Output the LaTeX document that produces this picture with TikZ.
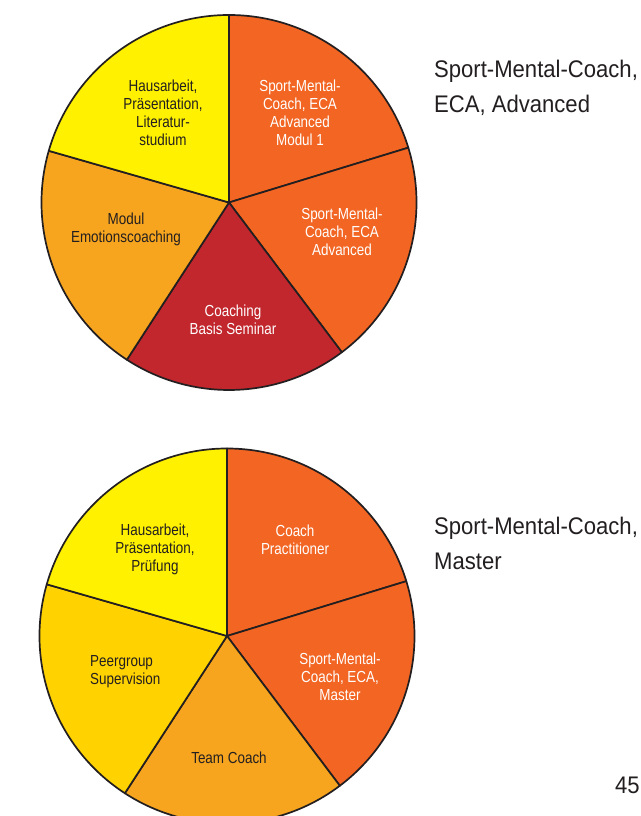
\documentclass[tikz,border=0pt]{standalone}
\usepackage{fontspec}
\setmainfont[FakeStretch=0.84]{Liberation Sans}
\newfontfamily\sidefont[FakeStretch=0.92]{Liberation Sans}
\definecolor{pyellow}{HTML}{FFF100}
\definecolor{porange}{HTML}{F26522}
\definecolor{pamber}{HTML}{F7A51E}
\definecolor{pred}{HTML}{C1272D}
\definecolor{pgold}{HTML}{FFD200}
\definecolor{ink}{HTML}{231F20}
\begin{document}
\begin{tikzpicture}[x=1pt,y=1pt,
  slice/.style={draw=ink,line width=1.7pt,line join=round},
  lbl/.style={align=center,font=\fontsize{16}{18}\selectfont,text=ink,inner sep=0pt},
  wlbl/.style={lbl,text=white},
  side/.style={align=left,anchor=base west,font=\sidefont\fontsize{24}{35.5}\selectfont,text=ink,inner sep=0pt}]
\useasboundingbox (0,0) rectangle (640,816);
\clip (0,0) rectangle (640,816);
\fill[white] (0,0) rectangle (640,816);
\def\R{187.5}
\def\aA{90}\def\aB{17}\def\aC{-53}\def\aD{-123}\def\aE{-196}
% ---------- top pie ----------
\coordinate (c1) at (229,613.5);
\filldraw[slice,fill=porange] (c1) -- ++(\aA:\R) arc (\aA:\aB:\R) -- cycle;
\filldraw[slice,fill=porange] (c1) -- ++(\aB:\R) arc (\aB:\aC:\R) -- cycle;
\filldraw[slice,fill=pred] (c1) -- ++(\aC:\R) arc (\aC:\aD:\R) -- cycle;
\filldraw[slice,fill=pamber] (c1) -- ++(\aD:\R) arc (\aD:\aE:\R) -- cycle;
\filldraw[slice,fill=pyellow] (c1) -- ++(\aE:\R) arc (\aE:-270:\R) -- cycle;
\node[lbl] (t1) at (163,703) {Hausarbeit,\\Präsentation,\\Literatur-\\studium};
\node[wlbl] (t2) at (300,703) {Sport-Mental-\\Coach, ECA\\Advanced\\Modul 1};
\node[wlbl] (t3) at (342,584) {Sport-Mental-\\Coach, ECA\\Advanced};
\node[lbl] (t4) at (126,587) {Modul\\Emotionscoaching};
\node[wlbl] (t5) at (233,496) {Coaching\\Basis Seminar};
\node[side] (s1) at (434,703) {Sport-Mental-Coach,\\ECA, Advanced};
% ---------- bottom pie ----------
\coordinate (c2) at (227,180);
\filldraw[slice,fill=porange] (c2) -- ++(\aA:\R) arc (\aA:\aB:\R) -- cycle;
\filldraw[slice,fill=porange] (c2) -- ++(\aB:\R) arc (\aB:\aC:\R) -- cycle;
\filldraw[slice,fill=pamber] (c2) -- ++(\aC:\R) arc (\aC:\aD:\R) -- cycle;
\filldraw[slice,fill=pgold] (c2) -- ++(\aD:\R) arc (\aD:\aE:\R) -- cycle;
\filldraw[slice,fill=pyellow] (c2) -- ++(\aE:\R) arc (\aE:-270:\R) -- cycle;
\node[lbl] (b1) at (155,267) {Hausarbeit,\\Präsentation,\\Prüfung};
\node[wlbl] (b2) at (295,276) {Coach\\Practitioner};
\node[wlbl] (b3) at (340,139) {Sport-Mental-\\Coach, ECA,\\Master};
\node[lbl,align=left,anchor=west] (b4) at (90,144) {Peergroup\\Supervision};
\node[lbl] (b5) at (229,58) {Team Coach};
\node[side] (s2) at (434,246) {Sport-Mental-Coach,\\Master};
\node[side] (pg) at (615,22) {45};
\end{tikzpicture}
\end{document}
